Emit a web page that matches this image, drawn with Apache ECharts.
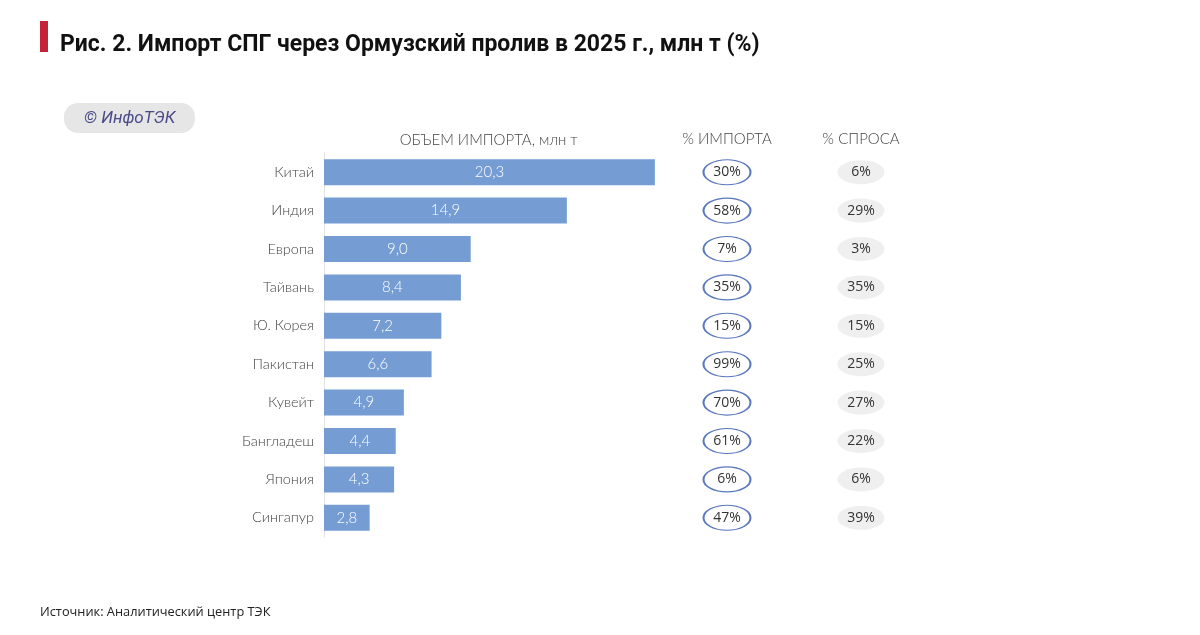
<!DOCTYPE html>
<html><head><meta charset="utf-8">
<script src="https://cdn.jsdelivr.net/npm/echarts@6/dist/echarts.min.js"></script>
<style>html,body{margin:0;padding:0;background:#fff}#c{width:1200px;height:635px}</style>
</head><body><div id="c"></div>
<script>
const categories = ['Китай','Индия','Европа','Тайвань','Ю. Корея','Пакистан','Кувейт','Бангладеш','Япония','Сингапур'];
const importVolume = [20.3, 14.9, 9.0, 8.4, 7.2, 6.6, 4.9, 4.4, 4.3, 2.8];
const importShare = [30, 58, 7, 35, 15, 99, 70, 61, 6, 47];
const demandShare = [6, 29, 3, 35, 15, 25, 27, 22, 6, 39];
const headers = ['ОБЪЕМ ИМПОРТА, млн т', '% ИМПОРТА', '% СПРОСА'];

const chart = echarts.init(document.getElementById('c'));
const gTop = 153, gBottom = 635 - 537;
const lightFont = 'Lato';
const catAxis = (gi, show) => ({
  type: 'category', gridIndex: gi, data: categories, inverse: true,
  axisTick: {show: false},
  axisLine: {show: show, lineStyle: {color: '#e2e2e2'}},
  axisLabel: {show: show, color: '#444', fontSize: 14.5, fontFamily: lightFont, fontWeight: 300, margin: 10}
});
const pctSeries = (gi, data, bordered) => ({
  type: 'scatter', xAxisIndex: gi, yAxisIndex: gi,
  data: data.map((v, i) => [0, i, v]),
  symbol: 'circle', symbolSize: bordered ? [47, 25] : [47, 24],
  itemStyle: bordered ? {color: '#fff', borderColor: '#5a78bd', borderWidth: 1.5, opacity: 1}
                      : {color: '#efefef', opacity: 1},
  label: {show: true, position: 'inside', formatter: p => p.value[2] + '%', color: '#333', fontSize: 14, fontFamily: 'Open Sans'},
  silent: true, z: 3
});
chart.setOption({
  animation: false,
  title: {text: 'Рис. 2. Импорт СПГ через Ормузский пролив в 2025 г., млн т (%)', left: 55, top: 29,
    textStyle: {fontFamily: 'Roboto', fontWeight: 'bold', fontSize: 23, color: '#111'}},
  graphic: [
    {type: 'rect', left: 40, top: 21, shape: {width: 8, height: 31}, style: {fill: '#c4213a'}},
    {type: 'rect', left: 64, top: 103, shape: {width: 131, height: 30, r: 14}, style: {fill: '#e6e6e6'}},
    {type: 'text', left: 84, top: 110, style: {text: '© ИнфоТЭК', fill: '#4a4a8a', fontSize: 17, fontStyle: 'italic', fontFamily: 'Roboto'}},
    {type: 'text', left: 40, top: 606, style: {text: 'Источник: Аналитический центр ТЭК', fill: '#222', fontSize: 12.8, fontFamily: 'Open Sans'}}
  ],
  grid: [
    {left: 324, width: 407.5, top: gTop, bottom: gBottom},
    {left: 703, width: 48, top: gTop, bottom: gBottom},
    {left: 837, width: 48, top: gTop, bottom: gBottom}
  ],
  xAxis: [
    {type: 'value', gridIndex: 0, min: 0, max: 25, show: true, position: 'top',
     axisLine: {show: false}, axisTick: {show: false}, axisLabel: {show: false}, splitLine: {show: false},
     name: headers[0], nameLocation: 'middle', nameGap: 5,
     nameTextStyle: {color: '#444', fontSize: 15, fontFamily: lightFont, fontWeight: 300, padding: [0, 0, 0, -78]}},
    {type: 'category', gridIndex: 1, data: [headers[1]], position: 'top',
     axisLine: {show: false}, axisTick: {show: false},
     axisLabel: {color: '#444', fontSize: 15, fontFamily: lightFont, fontWeight: 300, margin: 6}},
    {type: 'category', gridIndex: 2, data: [headers[2]], position: 'top',
     axisLine: {show: false}, axisTick: {show: false},
     axisLabel: {color: '#444', fontSize: 15, fontFamily: lightFont, fontWeight: 300, margin: 6}}
  ],
  yAxis: [catAxis(0, true), catAxis(1, false), catAxis(2, false)],
  series: [
    {type: 'bar', xAxisIndex: 0, yAxisIndex: 0, data: importVolume, barWidth: 26,
     itemStyle: {color: '#759dd3'},
     label: {show: true, position: 'inside', formatter: p => p.value.toFixed(1).replace('.', ','),
       color: '#fff', fontSize: 15, fontFamily: lightFont, fontWeight: 300}},
    pctSeries(1, importShare, true),
    pctSeries(2, demandShare, false)
  ]
});
</script></body></html>
